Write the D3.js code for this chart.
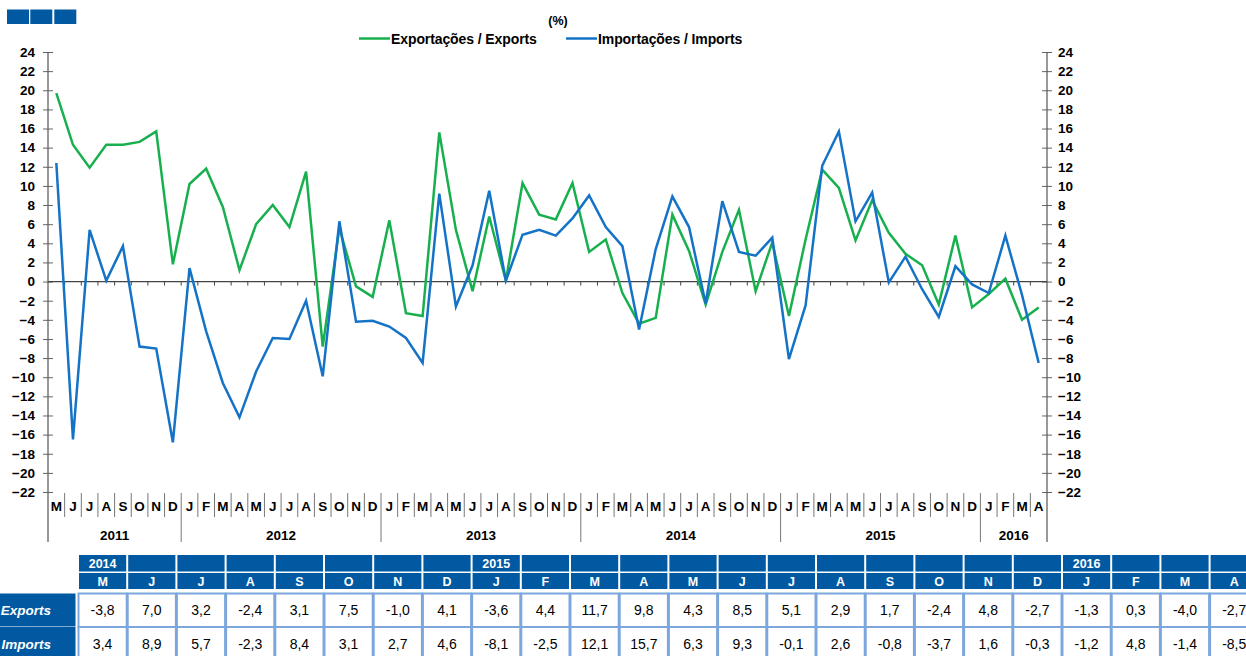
<!DOCTYPE html>
<html>
<head>
<meta charset="utf-8">
<script src="https://cdn.jsdelivr.net/npm/d3@7"></script>
<style>
  body { margin: 0; background: #fff; }
  svg { display: block; font-family: "Liberation Sans", Arial, sans-serif; }
</style>
</head>
<body>
<svg id="mainsvg" width="1246" height="656"></svg>
<script>
// months from May 2011 to April 2016
const years = ['2011', '2012', '2013', '2014', '2015', '2016'];
const monthsPerYear = [8, 12, 12, 12, 12, 4];
const monthLetters = [
  'M', 'J', 'J', 'A', 'S', 'O', 'N', 'D',
  'J', 'F', 'M', 'A', 'M', 'J', 'J', 'A', 'S', 'O', 'N', 'D',
  'J', 'F', 'M', 'A', 'M', 'J', 'J', 'A', 'S', 'O', 'N', 'D',
  'J', 'F', 'M', 'A', 'M', 'J', 'J', 'A', 'S', 'O', 'N', 'D',
  'J', 'F', 'M', 'A', 'M', 'J', 'J', 'A', 'S', 'O', 'N', 'D',
  'J', 'F', 'M', 'A'
];

const exportsVals = [
  19.7, 14.3, 11.9, 14.3, 14.3, 14.6, 15.7, 1.8,
  10.2, 11.8, 7.8, 1.2, 6.0, 8.0, 5.7, 11.5, -6.8, 5.6, -0.5, -1.6,
  6.4, -3.3, -3.6, 15.6, 5.4, -1.0, 6.8, 0.1, 10.3, 7.0, 6.5, 10.3,
  3.1, 4.4, -1.2, -4.4, -3.8, 7.0, 3.2, -2.4, 3.1, 7.5, -1.0, 4.1,
  -3.6, 4.4, 11.7, 9.8, 4.3, 8.5, 5.1, 2.9, 1.7, -2.4, 4.8, -2.7,
  -1.3, 0.3, -4.0, -2.7
];
const importsVals = [
  12.4, -16.5, 5.4, 0.1, 3.7, -6.8, -7.0, -16.8,
  1.4, -5.2, -10.6, -14.2, -9.4, -5.9, -6.0, -2.0, -9.9, 6.3, -4.2, -4.1,
  -4.7, -5.9, -8.5, 9.2, -2.6, 1.7, 9.5, 0.1, 4.9, 5.4, 4.8, 6.6,
  9.0, 5.7, 3.7, -5.0, 3.4, 8.9, 5.7, -2.3, 8.4, 3.1, 2.7, 4.6,
  -8.1, -2.5, 12.1, 15.7, 6.3, 9.3, -0.1, 2.6, -0.8, -3.7, 1.6, -0.3,
  -1.2, 4.8, -1.4, -8.5
];
const yTicks = d3.range(-22, 25, 2);

// table: last 24 months
const tableStart = 36;
const tableYears = {0: '2014', 8: '2015', 20: '2016'};

const green = '#18b04e';
const blue = '#1473c6';
const navy = '#0059a1';
const cellBorder = '#7ca7dd';

const svg = d3.select('#mainsvg');
const n = exportsVals.length;

const xScale = d3.scaleBand().domain(d3.range(n)).range([48, 1047]);
const yScale = d3.scaleLinear().domain([-22, 24]).range([492, 52]);
const step = xScale.step();
const cx = i => xScale(i) + step / 2;

// top-left boxes
svg.selectAll('rect.box').data([0, 1, 2]).join('rect')
  .attr('class', 'box')
  .attr('x', d => [7, 30.3, 54.3][d]).attr('y', 9.5)
  .attr('width', 22).attr('height', 14.5)
  .attr('fill', navy);

// legend
svg.append('text').text('(%)')
  .attr('x', 558).attr('y', 25).attr('text-anchor', 'middle')
  .attr('font-size', 12.5).attr('font-weight', 'bold');
const legend = [
  {name: 'Exportações / Exports', color: green, x: 359},
  {name: 'Importações / Imports', color: blue, x: 566}
];
legend.forEach(l => {
  svg.append('line').attr('x1', l.x).attr('x2', l.x + 31)
    .attr('y1', 38.5).attr('y2', 38.5)
    .attr('stroke', l.color).attr('stroke-width', 2.5);
  svg.append('text').text(l.name)
    .attr('x', l.x + 32).attr('y', 43.5)
    .attr('font-size', 14).attr('font-weight', 'bold')
    .attr('letter-spacing', -0.1);
});

// axes
const styleAxis = (g, inner) => {
  g.select('.domain').remove();
  g.selectAll('.tick line').attr('stroke', '#666');
  g.selectAll('.tick').append('line')
    .attr('x1', 0).attr('x2', inner).attr('stroke', '#666');
  g.selectAll('.tick text')
    .attr('font-size', 13.5).attr('font-weight', 'bold')
    .attr('fill', '#000').attr('font-family', '"Liberation Sans", Arial, sans-serif');
};
svg.append('g').attr('transform', 'translate(48,0)')
  .call(d3.axisLeft(yScale).tickValues(yTicks).tickSize(5).tickPadding(8))
  .call(g => styleAxis(g, 5));
svg.append('g').attr('transform', 'translate(1047,0)')
  .call(d3.axisRight(yScale).tickValues(yTicks).tickSize(5).tickPadding(6))
  .call(g => styleAxis(g, -5));

svg.append('line').attr('x1', 48).attr('x2', 48).attr('y1', 52).attr('y2', 542)
  .attr('stroke', '#555').attr('stroke-width', 1.2);
svg.append('line').attr('x1', 1047).attr('x2', 1047).attr('y1', 52).attr('y2', 542)
  .attr('stroke', '#555').attr('stroke-width', 1.2);

// zero line with month ticks
svg.append('line').attr('x1', 48).attr('x2', 1047)
  .attr('y1', yScale(0)).attr('y2', yScale(0))
  .attr('stroke', '#444').attr('stroke-width', 1.2);
svg.append('g').selectAll('line').data(d3.range(1, n)).join('line')
  .attr('x1', d => xScale(d)).attr('x2', d => xScale(d))
  .attr('y1', yScale(0)).attr('y2', yScale(0) + 4)
  .attr('stroke', '#444');

// category axis
const yearStarts = [];
let acc = 0;
monthsPerYear.forEach(m => { yearStarts.push(acc); acc += m; });

svg.append('g').selectAll('line').data(d3.range(1, n)).join('line')
  .attr('x1', d => xScale(d)).attr('x2', d => xScale(d))
  .attr('y1', 493)
  .attr('y2', d => yearStarts.includes(d) ? 542 : 517)
  .attr('stroke', '#777').attr('stroke-width', 1);

svg.append('g').selectAll('text').data(monthLetters).join('text')
  .text(d => d)
  .attr('x', (d, i) => cx(i)).attr('y', 510.5)
  .attr('text-anchor', 'middle')
  .attr('font-size', 13.5).attr('font-weight', 'bold');

svg.append('g').selectAll('text').data(years).join('text')
  .text(d => d)
  .attr('x', (d, i) => xScale(yearStarts[i]) + monthsPerYear[i] * step / 2)
  .attr('y', 540)
  .attr('text-anchor', 'middle')
  .attr('font-size', 13.5).attr('font-weight', 'bold');

// lines
const line = d3.line().x((d, i) => cx(i)).y(d => yScale(d));
svg.append('path').datum(exportsVals)
  .attr('d', line).attr('fill', 'none')
  .attr('stroke', green).attr('stroke-width', 2.5).attr('stroke-linejoin', 'miter');
svg.append('path').datum(importsVals)
  .attr('d', line).attr('fill', 'none')
  .attr('stroke', blue).attr('stroke-width', 2.5).attr('stroke-linejoin', 'miter');

// table
const fmt = v => d3.format('.1f')(v).replace('.', ',').replace('−', '-');
const colW = 49.2;
const tx = j => 78 + j * colW;
const cols = d3.range(n - tableStart);
const table = svg.append('g');

table.selectAll('rect.h1').data(cols).join('rect')
  .attr('x', j => tx(j) + 1).attr('y', 555)
  .attr('width', colW - 2).attr('height', 16.5).attr('fill', navy);
table.selectAll('rect.h2').data(cols).join('rect')
  .attr('x', j => tx(j) + 1).attr('y', 573)
  .attr('width', colW - 2).attr('height', 16).attr('fill', navy);
table.selectAll('text.yr').data(cols.filter(j => tableYears[j])).join('text')
  .text(j => tableYears[j])
  .attr('x', j => tx(j) + colW / 2).attr('y', 568)
  .attr('text-anchor', 'middle').attr('fill', '#fff')
  .attr('font-size', 12.5).attr('font-weight', 'bold');
table.selectAll('text.mo').data(cols).join('text')
  .text(j => monthLetters[tableStart + j])
  .attr('x', j => tx(j) + colW / 2).attr('y', 585.5)
  .attr('text-anchor', 'middle').attr('fill', '#fff')
  .attr('font-size', 12.5).attr('font-weight', 'bold');

const rows = [
  {name: 'Exports', vals: exportsVals, y: 593.5},
  {name: 'Imports', vals: importsVals, y: 627}
];
rows.forEach(r => {
  table.append('rect').attr('x', -10).attr('y', r.y)
    .attr('width', 85.5).attr('height', 33).attr('fill', navy);
  table.append('text').text(r.name)
    .attr('x', 51).attr('y', r.y + 21.5).attr('text-anchor', 'end')
    .attr('fill', '#fff').attr('font-size', 13.5)
    .attr('font-weight', 'bold').attr('font-style', 'italic');
  table.append('g').selectAll('rect').data(cols).join('rect')
    .attr('x', j => tx(j) + 0.5).attr('y', r.y)
    .attr('width', colW - 1).attr('height', 33.5)
    .attr('fill', '#fff').attr('stroke', cellBorder).attr('stroke-width', 2);
  table.append('g').selectAll('text').data(cols).join('text')
    .text(j => fmt(r.vals[tableStart + j]))
    .attr('x', j => tx(j) + colW / 2).attr('y', r.y + 21.5)
    .attr('text-anchor', 'middle').attr('font-size', 14);
});
</script>
</body>
</html>
